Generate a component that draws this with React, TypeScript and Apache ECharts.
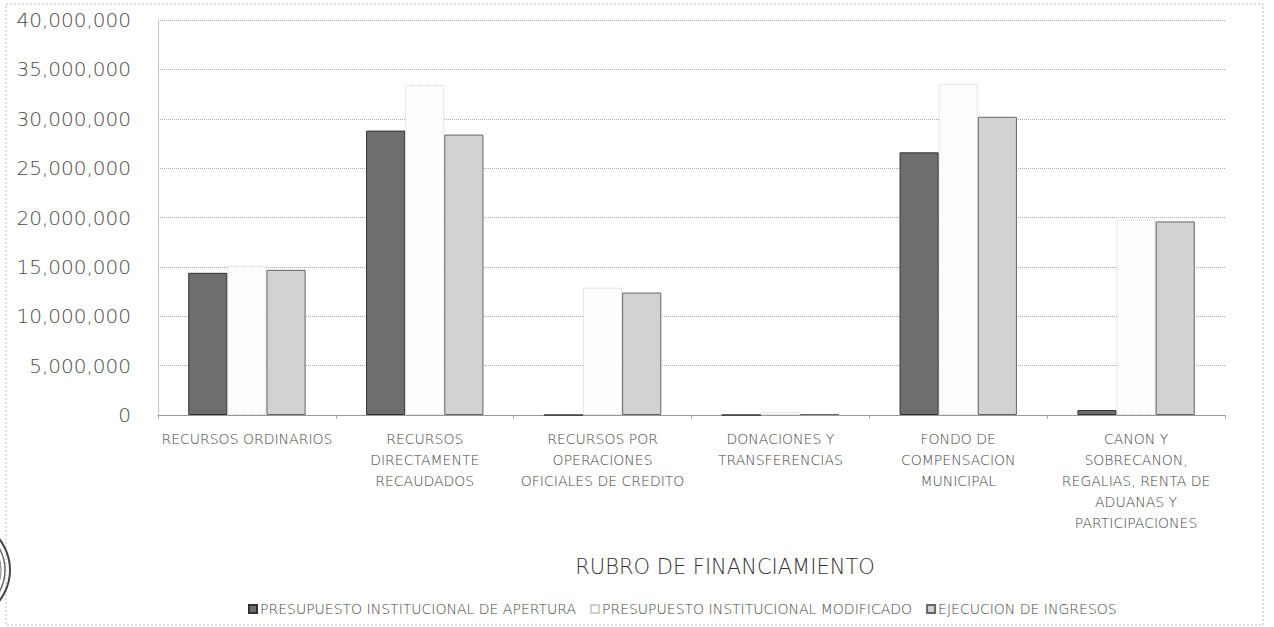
import React, { useEffect, useRef } from "react";
import * as echarts from "echarts";

const categories = [
  "RECURSOS ORDINARIOS",
  "RECURSOS\nDIRECTAMENTE\nRECAUDADOS",
  "RECURSOS POR\nOPERACIONES\nOFICIALES DE CREDITO",
  "DONACIONES Y\nTRANSFERENCIAS",
  "FONDO DE\nCOMPENSACION\nMUNICIPAL",
  "CANON Y\nSOBRECANON,\nREGALIAS, RENTA DE\nADUANAS Y\nPARTICIPACIONES",
];
const seriesNames = [
  "PRESUPUESTO INSTITUCIONAL DE APERTURA",
  "PRESUPUESTO INSTITUCIONAL MODIFICADO",
  "EJECUCION DE INGRESOS",
];
const apertura = [14400000, 28800000, 0, 0, 26600000, 500000];
const modificado = [15100000, 33400000, 12900000, 300000, 33500000, 19800000];
const ejecucion = [14700000, 28400000, 12400000, 100000, 30200000, 19600000];
const yTicks = { min: 0, max: 40000000, interval: 5000000 };
const axisTitle = "RUBRO DE FINANCIAMIENTO";

const FONT = "'DejaVu Sans', sans-serif";
const W = 200;

export default function App() {
  const ref = useRef<HTMLDivElement>(null);
  useEffect(() => {
    document.body.style.margin = "0";
    const chart = echarts.init(ref.current!, null, { renderer: "svg" });
    chart.setOption({
      animation: false,
      backgroundColor: "#ffffff",
      textStyle: { fontFamily: FONT, fontWeight: W },
      grid: { left: 158, right: 49, top: 20, bottom: 212, containLabel: false },
      legend: {
        top: 597,
        left: 243,
        itemWidth: 8,
        itemHeight: 8,
        itemGap: 14,
        icon: "rect",
        textStyle: { fontSize: 14, color: "#444", fontFamily: FONT, fontWeight: W, padding: [0, 0, 0, -2] },
        data: seriesNames,
      },
      xAxis: {
        type: "category",
        data: categories,
        axisLine: { lineStyle: { color: "#999", width: 1 } },
        axisTick: { show: true, length: 4, lineStyle: { color: "#aaa" } },
        axisLabel: {
          interval: 0,
          fontSize: 14,
          color: "#444",
          lineHeight: 21,
          margin: 13,
          fontFamily: FONT,
          fontWeight: W,
        },
      },
      yAxis: {
        type: "value",
        ...yTicks,
        axisLine: { show: true, lineStyle: { color: "#bbb", type: "dotted" } },
        axisTick: { show: false },
        splitLine: { lineStyle: { color: "#aaa", type: "dotted", width: 1 } },
        axisLabel: {
          fontSize: 20,
          color: "#4a4a4a",
          margin: 27,
          fontFamily: FONT,
          fontWeight: W,
          formatter: (v: number) => v.toLocaleString("en-US"),
        },
      },
      series: [
        {
          name: seriesNames[0],
          type: "bar",
          data: apertura,
          barGap: "0%",
          barCategoryGap: "34%",
          itemStyle: { color: "#6e6e6e", borderColor: "#333", borderWidth: 1 },
        },
        {
          name: seriesNames[1],
          type: "bar",
          data: modificado,
          itemStyle: { color: "#fdfdfd", borderColor: "#cfcfcf", borderWidth: 1, borderType: "dotted" },
        },
        {
          name: seriesNames[2],
          type: "bar",
          data: ejecucion,
          itemStyle: { color: "#d2d2d2", borderColor: "#666", borderWidth: 1 },
        },
      ],
      graphic: [
        {
          type: "rect",
          shape: { x: 6, y: 4, width: 1257, height: 621 },
          style: { fill: "none", stroke: "#bbb", lineWidth: 1, lineDash: [2, 2] },
          silent: true,
        },
        {
          type: "text",
          x: 725,
          y: 567,
          style: {
            text: axisTitle,
            fontSize: 21,
            fontFamily: FONT,
            fontWeight: W,
            fill: "#333",
            align: "center",
            verticalAlign: "middle",
          },
          silent: true,
        },
        {
          type: "circle",
          shape: { cx: -40, cy: 570, r: 50 },
          style: { fill: "none", stroke: "#444", lineWidth: 2 },
          silent: true,
        },
        {
          type: "circle",
          shape: { cx: -40, cy: 570, r: 45 },
          style: { fill: "none", stroke: "#666", lineWidth: 1.5 },
          silent: true,
        },
        {
          type: "circle",
          shape: { cx: -40, cy: 570, r: 41 },
          style: { fill: "none", stroke: "#777", lineWidth: 1 },
          silent: true,
        },
      ],
    });
    return () => chart.dispose();
  }, []);
  return <div ref={ref} style={{ width: 1274, height: 627 }} />;
}
